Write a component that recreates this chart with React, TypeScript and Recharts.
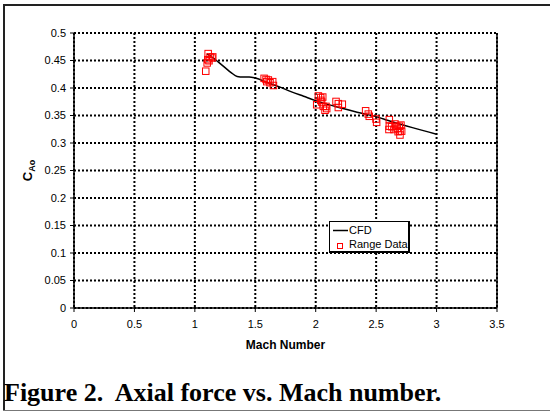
import React from 'react';
import { ComposedChart, Line, Scatter, XAxis, YAxis, CartesianGrid, ReferenceLine } from 'recharts';

const machTicks = [0, 0.5, 1, 1.5, 2, 2.5, 3, 3.5];
const caoTicks = [0, 0.05, 0.1, 0.15, 0.2, 0.25, 0.3, 0.35, 0.4, 0.45, 0.5];

const cfdMach = [1.1, 1.15, 1.2, 1.25, 1.3, 1.35, 1.4, 1.45, 1.5, 1.6, 1.7, 1.8, 1.9, 2.0, 2.2, 2.4, 2.5, 2.6, 2.8, 3.0];
const cfdCao = [0.462, 0.455, 0.446, 0.437, 0.428, 0.421, 0.420, 0.420, 0.418, 0.410, 0.402, 0.393, 0.385, 0.377, 0.364, 0.353, 0.348, 0.341, 0.328, 0.316];

const rangeMach = [1.088, 1.1, 1.105, 1.108, 1.115, 1.124, 1.14, 1.146,
  1.571, 1.587, 1.593, 1.606, 1.62, 1.642, 1.648,
  2.006, 2.02, 2.039, 2.04, 2.047, 2.056, 2.061, 2.075, 2.083, 2.089,
  2.166, 2.185, 2.185, 2.218,
  2.411, 2.433, 2.441, 2.497, 2.502,
  2.607, 2.604, 2.607, 2.626, 2.645, 2.654, 2.667, 2.672, 2.68, 2.689, 2.695, 2.695, 2.703, 2.709];
const rangeCao = [0.431, 0.446, 0.452, 0.463, 0.450, 0.457, 0.455, 0.457,
  0.418, 0.416, 0.412, 0.415, 0.410, 0.412, 0.405,
  0.370, 0.386, 0.383, 0.378, 0.375, 0.384, 0.367, 0.360, 0.367, 0.363,
  0.376, 0.372, 0.365, 0.371,
  0.359, 0.353, 0.349, 0.344, 0.338,
  0.343, 0.325, 0.331, 0.330, 0.325, 0.335, 0.331, 0.327, 0.321, 0.331, 0.322, 0.315, 0.333, 0.322];

const cfdData = cfdMach.map((x, i) => ({ x, y: cfdCao[i] }));
const rangeData = rangeMach.map((x, i) => ({ x, y: rangeCao[i] }));

const Square = (props: any) => {
  const { cx, cy } = props;
  if (cx == null || cy == null) return null;
  return <rect x={cx - 3} y={cy - 3} width={6.5} height={6.5} fill="none" stroke="#ff0000" strokeWidth={1} />;
};

const YLabel = (props: any) => {
  const vb = props.viewBox || {};
  const cx = 29;
  const cy = (vb.y ?? 33) + (vb.height ?? 275) / 2;
  return (
    <text transform={`translate(${cx},${cy}) rotate(-90)`} textAnchor="middle" fontFamily="Arial, 'Liberation Sans', sans-serif" fontWeight="bold" fill="#000" dominantBaseline="middle">
      <tspan fontSize={13}>C</tspan>
      <tspan fontSize={9} dy={4}>Ao</tspan>
    </text>
  );
};

const LegendBox = () => (
  <div style={{ position: 'absolute', left: 329, top: 221, width: 81, height: 32, border: '1px solid #000', borderRightWidth: 2, borderBottomWidth: 2, background: '#fff', fontFamily: "Arial, 'Liberation Sans', sans-serif", fontSize: 11, color: '#000', boxSizing: 'border-box' }}>
    <svg width={20} height={30} style={{ position: 'absolute', left: 0, top: 0 }}>
      <line x1={3} x2={18} y1={8.5} y2={8.5} stroke="#000" strokeWidth={1.5} />
      <rect x={7.5} y={21.5} width={5} height={5} fill="none" stroke="#ff0000" strokeWidth={1} />
    </svg>
    <div style={{ position: 'absolute', left: 19, top: 2, lineHeight: '13px' }}>CFD</div>
    <div style={{ position: 'absolute', left: 19, top: 16, lineHeight: '13px', whiteSpace: 'nowrap' }}>Range Data</div>
  </div>
);

export default function App() {
  const font = "Arial, 'Liberation Sans', sans-serif";
  return (
    <div style={{ position: 'absolute', left: 0, top: 0, width: 550, height: 412, background: '#fff', overflow: 'hidden' }}>
      <div style={{ position: 'absolute', left: 3, top: 4, width: 547, height: 2, background: '#222' }} />
      <div style={{ position: 'absolute', left: 3, top: 4, width: 2, height: 407, background: '#222' }} />
      <div style={{ position: 'absolute', left: 3, top: 410, width: 547, height: 1, background: '#777' }} />
      <div style={{ position: 'absolute', left: 0, top: 0 }}>
        <ComposedChart width={550} height={412} margin={{ top: 33, right: 53, bottom: 74, left: 14 }}>
          <CartesianGrid stroke="#000" strokeDasharray="2 2" strokeWidth={2} horizontalValues={caoTicks} verticalValues={machTicks} />
          <XAxis type="number" dataKey="x" domain={[0, 3.5]} ticks={machTicks} allowDataOverflow
            height={30} tickSize={4} tickMargin={8} stroke="#000" axisLine={{ stroke: '#000', strokeWidth: 1.5 }}
            tickLine={{ stroke: '#000' }} tick={{ fill: '#000', fontSize: 11, fontFamily: font }}
            label={{ value: 'Mach Number', position: 'bottom', offset: 2, fill: '#000', fontSize: 12, fontWeight: 'bold', fontFamily: font }} />
          <YAxis type="number" dataKey="y" domain={[0, 0.5]} ticks={caoTicks} allowDataOverflow
            width={60} tickSize={4} tickMargin={4} axisLine={{ stroke: '#000', strokeWidth: 1.5 }}
            tickLine={{ stroke: '#000' }} tick={{ fill: '#000', fontSize: 11, fontFamily: font }}
            label={<YLabel />} />
          <ReferenceLine x={3.5} stroke="#000" strokeWidth={1.5} />
          <Line data={cfdData} dataKey="y" type="monotone" stroke="#000" strokeWidth={1.5} dot={false} isAnimationActive={false} name="CFD" />
          <Scatter data={rangeData} dataKey="y" shape={<Square />} isAnimationActive={false} name="Range Data" />
        </ComposedChart>
      </div>
      <LegendBox />
      <div style={{ position: 'absolute', left: 4, top: 378, fontFamily: "'Times New Roman', 'Liberation Serif', serif", fontWeight: 'bold', fontSize: 26, color: '#000', whiteSpace: 'pre', lineHeight: '30px' }}>
        {'Figure 2.  Axial force vs. Mach number.'}
      </div>
    </div>
  );
}
